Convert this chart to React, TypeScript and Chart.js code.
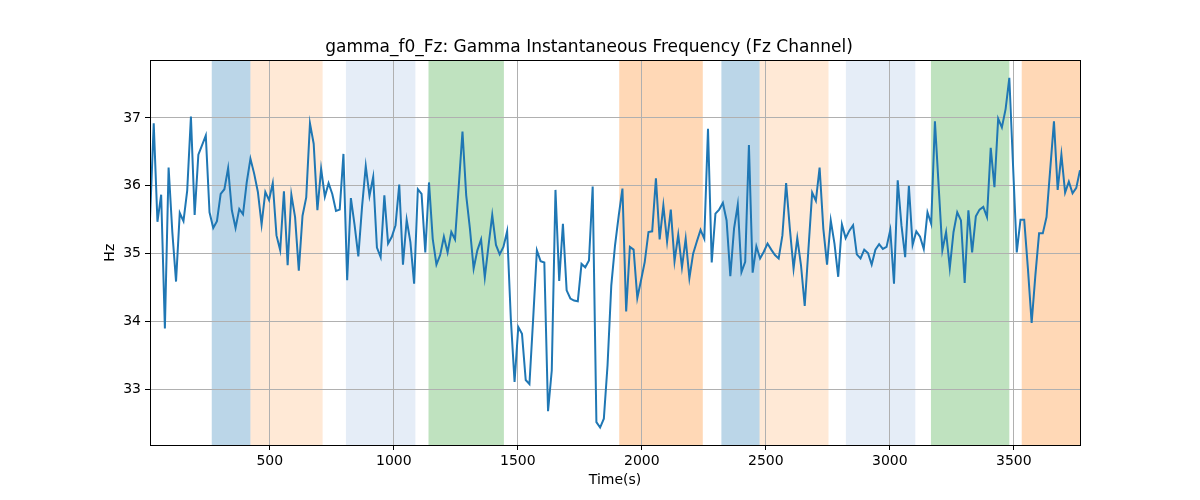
import React, { useEffect, useRef } from "react";
import { Chart, registerables } from "chart.js";

Chart.register(...registerables);

// sampled gamma f0 on Fz, one sample every 15 s starting at t = 17
const T0 = 17;
const STEP = 15;
const f0Values = [
  35.51, 36.92, 35.47, 35.87, 33.9, 36.27, 35.32, 34.59, 35.6, 35.48,
  35.93, 37.02, 35.57, 36.46, 36.6, 36.74, 35.61, 35.38, 35.48, 35.88,
  35.95, 36.26, 35.64, 35.38, 35.66, 35.58, 36.05, 36.4, 36.18, 35.91,
  35.43, 35.91, 35.79, 36.04, 35.27, 35.05, 35.92, 34.83, 35.87, 35.54,
  34.75, 35.56, 35.83, 36.92,
  36.62, 35.64, 36.25, 35.84, 36.04, 35.88, 35.63, 35.65, 36.47, 34.61,
  35.82, 35.42, 34.96, 35.69, 36.29, 35.85, 36.13, 35.09, 34.95, 35.86,
  35.15, 35.25, 35.42, 36.02, 34.84, 35.5, 35.17, 34.56, 35.95, 35.88,
  35.02, 36.05, 35.22, 34.84, 34.98, 35.25, 35.02, 35.32, 35.21, 36.0,
  36.8,
  35.86, 35.37, 34.78, 35.05, 35.21, 34.65, 35.12, 35.57, 35.13, 34.99,
  35.1, 35.33, 34.04, 33.11, 33.92, 33.82, 33.14, 33.08, 34.04, 35.05,
  34.89, 34.87, 32.68, 33.28, 35.94, 34.6, 35.44, 34.46, 34.34, 34.31,
  34.3, 34.85, 34.8, 34.9, 35.99, 32.52, 32.44, 32.57, 33.36, 34.53,
  35.12, 35.56, 35.96,
  34.15, 35.1, 35.06, 34.35, 34.61, 34.88, 35.32, 35.33, 36.11, 35.21,
  35.71, 35.18, 35.65, 34.89, 35.28, 34.8, 35.22, 34.64, 35.0, 35.18,
  35.35, 35.22, 36.84, 34.87, 35.59, 35.65, 35.75, 35.49, 34.67, 35.37,
  35.72, 34.73, 34.88, 36.6, 34.72, 35.11, 34.93, 35.03, 35.15, 35.06,
  34.98,
  34.93, 35.27, 36.04, 35.37, 34.78, 35.23, 34.83, 34.23, 35.07, 35.9,
  35.78, 36.27, 35.37, 34.84, 35.49, 35.15, 34.66, 35.43, 35.23, 35.34,
  35.42, 34.99, 34.93, 35.06, 35.01, 34.84, 35.06, 35.14, 35.07, 35.1,
  35.35, 34.56, 36.08, 35.42, 34.95, 36.0, 35.13, 35.33, 35.25, 35.07,
  35.61,
  35.44, 36.95, 36.0, 35.05, 35.32, 34.79, 35.32, 35.61, 35.49, 34.57,
  35.64, 35.02, 35.55, 35.65, 35.69, 35.54, 36.56, 35.98, 36.99, 36.86,
  37.13, 37.59, 36.3, 35.02, 35.5, 35.5, 34.78, 33.98, 34.68, 35.3,
  35.3, 35.54, 36.25, 36.95, 35.94, 36.46, 35.9, 36.06, 35.89, 35.97,
  36.23,
];
const times = f0Values.map((_, i) => T0 + i * STEP);

// shaded segments (seconds)
const bandStart = [266, 422, 807, 1140, 1909, 2321, 2475, 2823, 3166, 3532];
const bandEnd = [422, 713, 1087, 1444, 2246, 2475, 2753, 3103, 3482, 3767];
const bandKind = ["blue", "peach", "mist", "green", "orange", "blue", "peach", "mist", "green", "orange"];

const xTicks = [500, 1000, 1500, 2000, 2500, 3000, 3500];
const yTicks = [33, 34, 35, 36, 37];

const bandFill: Record<string, string> = {
  blue: "rgba(31,119,180,0.3)",
  peach: "rgba(255,127,14,0.17)",
  mist: "rgba(70,130,200,0.14)",
  green: "rgba(44,160,44,0.3)",
  orange: "rgba(255,127,14,0.3)",
};

const FONT = "'DejaVu Sans', sans-serif";

const bandsPlugin = {
  id: "bands",
  beforeDraw(chart: any) {
    const { ctx, chartArea, scales } = chart;
    ctx.save();
    for (let i = 0; i < bandStart.length; i++) {
      const x1 = Math.max(scales.x.getPixelForValue(bandStart[i]), chartArea.left);
      const x2 = Math.min(scales.x.getPixelForValue(bandEnd[i]), chartArea.right);
      ctx.fillStyle = bandFill[bandKind[i]];
      ctx.fillRect(x1, chartArea.top, x2 - x1, chartArea.bottom - chartArea.top);
    }
    ctx.restore();
  },
};

const framePlugin = {
  id: "frame",
  afterDatasetsDraw(chart: any) {
    const { ctx, chartArea } = chart;
    ctx.save();
    ctx.strokeStyle = "#000";
    ctx.lineWidth = 1;
    ctx.strokeRect(
      Math.round(chartArea.left) + 0.5,
      Math.round(chartArea.top) + 0.5,
      Math.round(chartArea.right - chartArea.left),
      Math.round(chartArea.bottom - chartArea.top)
    );
    ctx.restore();
  },
};

const App: React.FC = () => {
  const canvasRef = useRef<HTMLCanvasElement | null>(null);
  const chartRef = useRef<Chart | null>(null);

  useEffect(() => {
    const ctx = canvasRef.current?.getContext("2d");
    if (!ctx) return;
    if (chartRef.current) chartRef.current.destroy();

    const lo = Math.min(...f0Values);
    const hi = Math.max(...f0Values);
    const pad = (hi - lo) * 0.05;

    chartRef.current = new Chart(ctx, {
      type: "line",
      data: {
        datasets: [
          {
            data: times.map((t, i) => ({ x: t, y: f0Values[i] })),
            borderColor: "#1f77b4",
            borderWidth: 2,
            pointRadius: 0,
            tension: 0,
            fill: false,
          },
        ],
      },
      options: {
        animation: false,
        responsive: true,
        maintainAspectRatio: false,
        layout: { padding: { left: 98, right: 120, top: 0, bottom: 7 } },
        plugins: {
          legend: { display: false },
          tooltip: { enabled: false },
          title: {
            display: true,
            text: "gamma_f0_Fz: Gamma Instantaneous Frequency (Fz Channel)",
            color: "#000",
            font: { family: FONT, size: 17, weight: "normal" },
            padding: { top: 37, bottom: 3 },
          },
        },
        scales: {
          x: {
            type: "linear",
            min: times[0],
            max: times[times.length - 1],
            afterBuildTicks: (s: any) => {
              s.ticks = xTicks.map((v) => ({ value: v }));
            },
            afterFit: (s: any) => {
              s.height = 48;
            },
            border: { display: false },
            grid: { color: "#b0b0b0", lineWidth: 1, tickColor: "#000", tickLength: 5, tickWidth: 1 },
            ticks: {
              color: "#000",
              font: { family: FONT, size: 14 },
              padding: 3,
              maxRotation: 0,
              callback: (v: any) => String(v),
            },
            title: { display: true, text: "Time(s)", color: "#000", font: { family: FONT, size: 14 } },
          },
          y: {
            min: lo - pad,
            max: hi + pad,
            afterBuildTicks: (s: any) => {
              s.ticks = yTicks.map((v) => ({ value: v }));
            },
            afterFit: (s: any) => {
              s.width = 52;
            },
            border: { display: false },
            grid: { color: "#b0b0b0", lineWidth: 1, tickColor: "#000", tickLength: 5, tickWidth: 1 },
            ticks: { color: "#000", font: { family: FONT, size: 14 }, padding: 4, callback: (v: any) => String(v) },
            title: { display: true, text: "Hz", color: "#000", font: { family: FONT, size: 14 } },
          },
        },
      },
      plugins: [bandsPlugin, framePlugin],
    });

    return () => {
      if (chartRef.current) {
        chartRef.current.destroy();
        chartRef.current = null;
      }
    };
  }, []);

  return (
    <div style={{ position: "absolute", left: 0, top: 0, width: 1200, height: 500, background: "#fff" }}>
      <canvas ref={canvasRef} />
    </div>
  );
};

export default App;
